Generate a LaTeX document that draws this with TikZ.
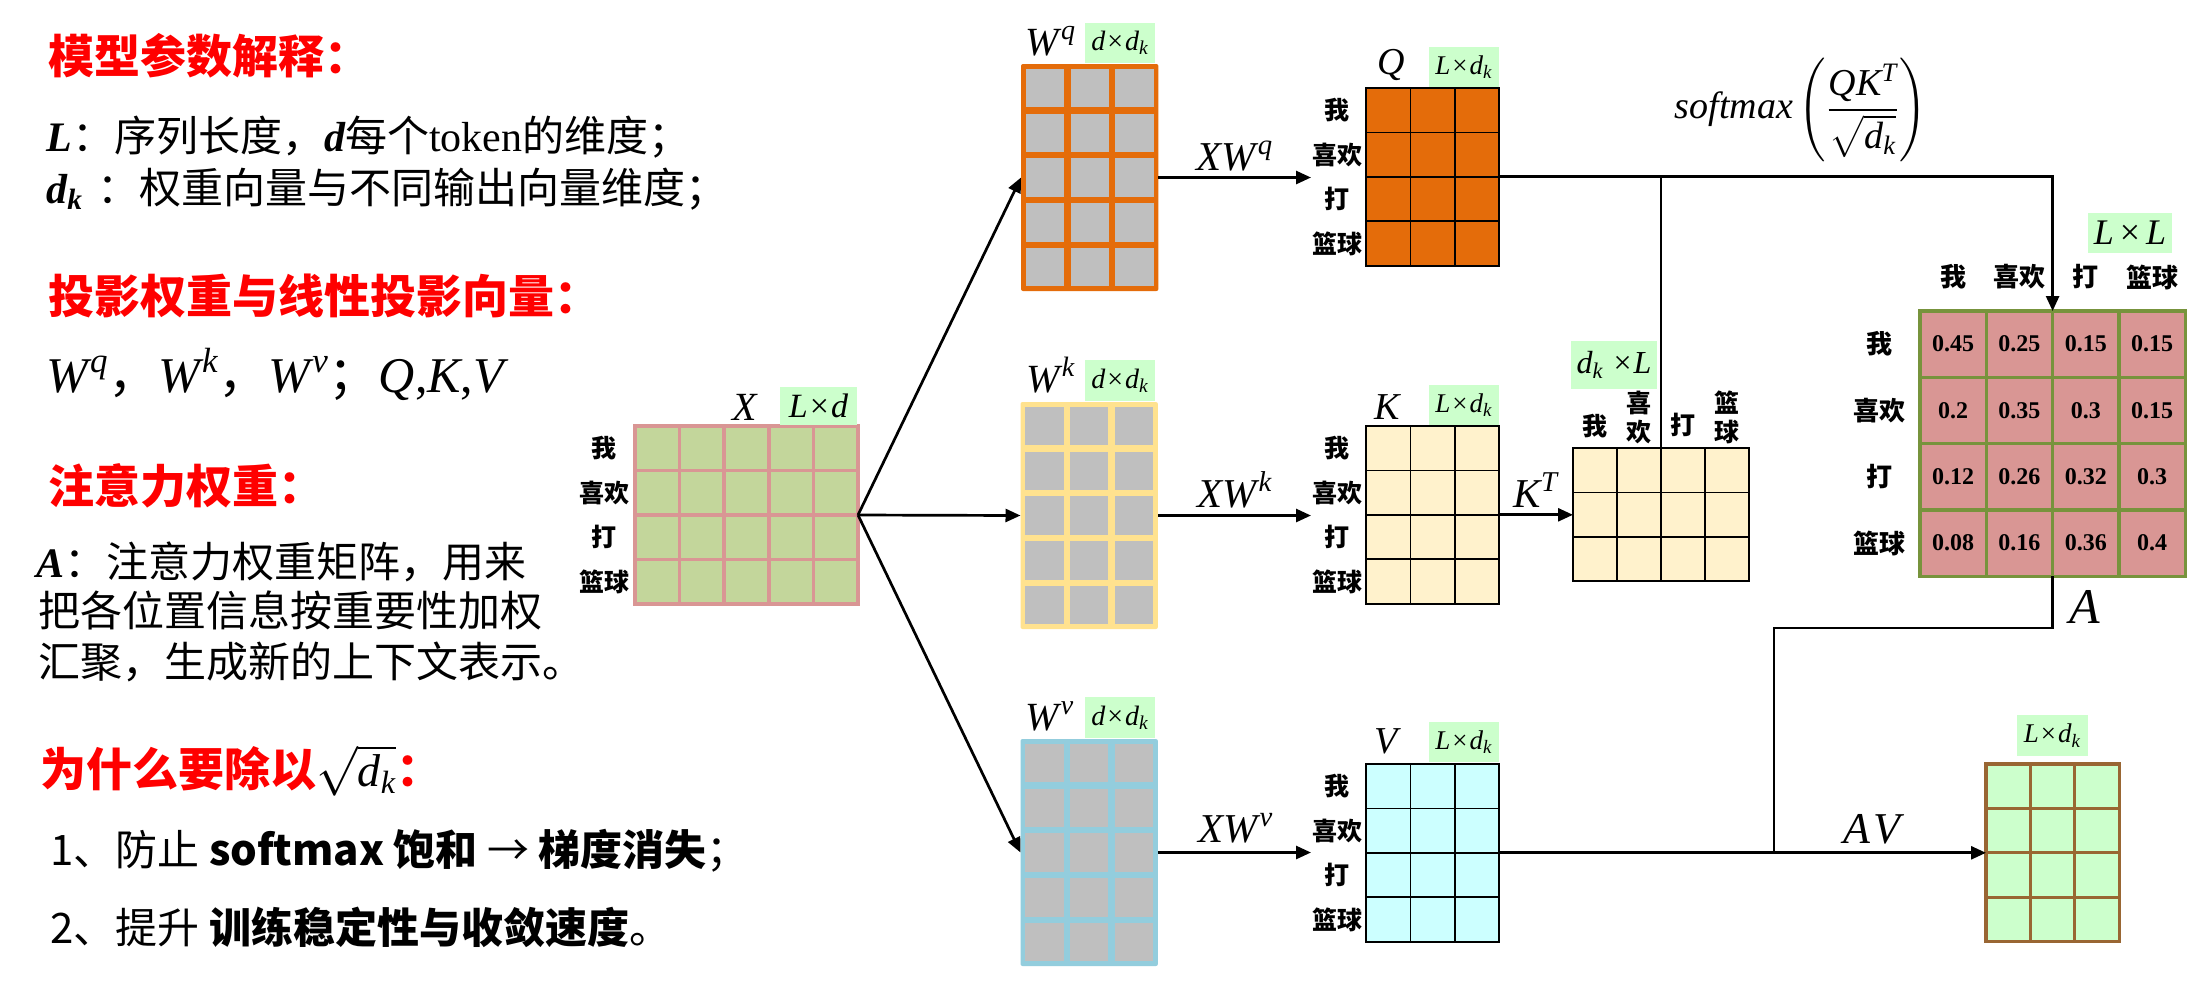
\documentclass[tikz,border=0pt]{standalone}
\usepackage{amsmath}
\usepackage{fontspec}
\setmainfont{Liberation Serif}
\newfontfamily\cjk{Noto Sans CJK SC}
\newfontfamily\tms{Liberation Serif}
\usetikzlibrary{arrows.meta,calc}
\definecolor{red0}{HTML}{FF0000}
\definecolor{dimg}{HTML}{CCFFCC}
\definecolor{xfill}{HTML}{C3D69B}
\definecolor{xline}{HTML}{D99694}
\definecolor{wq}{HTML}{E46C0A}
\definecolor{wk}{HTML}{FFE28F}
\definecolor{wv}{HTML}{93CDDD}
\definecolor{cellg}{HTML}{BFBFBF}
\definecolor{kf}{HTML}{FFF2CC}
\definecolor{vf}{HTML}{CCFFFF}
\definecolor{af}{HTML}{D99694}
\definecolor{al}{HTML}{77933C}
\definecolor{of}{HTML}{CCFFCC}
\definecolor{ol}{HTML}{996633}
\newcommand\tv[1]{\text{\tms\mdseries\itshape #1}}
\newcommand\bi[1]{{\tms\bfseries\itshape #1}}
\newcommand\I[1]{{\tms\mdseries\itshape #1}}
\newcommand\tX{{\tms\mdseries\kern1pt×\kern1pt}}
\newcommand\sk{\textsubscript{\I{k}}}
\tikzset{
  box/.style 2 args={minimum width={(#1)*0.5pt}, minimum height={(#2)*0.5pt}, inner sep=0pt, outer sep=0pt},
  head/.style={anchor=base west, inner sep=0pt, text=red0, font=\cjk\bfseries\fontsize{23pt}{27pt}\selectfont},
  body/.style={anchor=base west, inner sep=0pt, font=\cjk\fontsize{21pt}{25pt}\selectfont},
  lab/.style={inner sep=0pt, font=\cjk\bfseries\fontsize{12.5pt}{14.5pt}\selectfont},
  alab/.style={inner sep=0pt, font=\cjk\bfseries\fontsize{13pt}{15pt}\selectfont},
  num/.style={inner sep=0pt, font=\tms\bfseries\fontsize{12pt}{14pt}\selectfont},
  mlab/.style={anchor=base, inner sep=0pt, font=\fontsize{20pt}{24pt}\selectfont},
  qlab/.style={anchor=base, inner sep=0pt, font=\fontsize{19pt}{22pt}\selectfont},
  dimbox/.style 2 args={box={#1}{#2}, fill=dimg},
  conn/.style={line width=1.35pt, black},
  arr/.style={conn, -{Triangle[length=7.5pt,width=6.5pt]}},
}
% name, x0, y0, cols, rows, cw, ch, fill, line style
\newcommand\mgrid[9]{%
  \node[box={#4*#6}{#5*#7}, anchor=north west, fill=#8] (#1) at (#2,#3) {};
  \pgfmathtruncatemacro\mgc{#4-1}%
  \pgfmathtruncatemacro\mgr{#5-1}%
  \foreach \ii in {1,...,\mgc}{\draw[#9] ({#2+\ii*#6},#3) -- ({#2+\ii*#6},{#3+#5*#7});}
  \foreach \jj in {1,...,\mgr}{\draw[#9] (#2,{#3+\jj*#7}) -- ({#2+#4*#6},{#3+\jj*#7});}
  \draw[#9] (#2,#3) rectangle ({#2+#4*#6},{#3+#5*#7});
}
% name, x0, y0, colour
\newcommand\wmat[4]{%
  \node[box={137.4}{227}, anchor=north west, fill=#4, rounded corners=1pt] (#1) at ({#2-1.5},{#3-1.5}) {};
  \foreach \ii in {0,1,2}{\foreach \jj in {0,...,4}{%
    \fill[cellg] ({#2+\ii*44.8+3.2},{#3+\jj*44.8+3.2}) rectangle ++(38.4,38.4);}}
}
% prefix, x, y0, ch
\newcommand\rowlabs[4]{%
  \node[lab] (#1r1) at (#2,{#3+0.5*#4}) {我};
  \node[lab] (#1r2) at (#2,{#3+1.5*#4}) {喜欢};
  \node[lab] (#1r3) at (#2,{#3+2.5*#4}) {打};
  \node[lab] (#1r4) at (#2,{#3+3.5*#4}) {篮球};
}
\begin{document}
\begin{tikzpicture}[x=0.5pt,y=-0.5pt]
\useasboundingbox (0,0) rectangle (2196,982);
\fill[white] (0,0) rectangle (2196,982);

% ---------------- left text ----------------
\node[head] (h1) at (48,73) {模型参数解释：};
\node[body] (b1) at (46,151) {\bi{L}：序列长度，\bi{d}每个{\tms token}的维度；};
\node[body] (b2) at (46,203) {\bi{d}\textsubscript{\bi{k}}\hspace{7pt}：权重向量与不同输出向量维度；};
\node[head] (h2) at (48,313) {投影权重与线性投影向量：};
\node[anchor=base west, inner sep=0pt, font=\cjk\fontsize{25pt}{29pt}\selectfont] (wl) at (46,392)
  {$\tv{W}^{\kern1pt\tv{q}}$，$\tv{W}^{\kern1pt\tv{k}}$，$\tv{W}^{\kern1pt\tv{v}}$；$\tv{Q}${\tms,}$\tv{K}${\tms,}$\tv{V}$};
\node[head] (h3) at (48,503) {注意力权重：};
\node[body] (a1) at (36,577) {\bi{A}：注意力权重矩阵，用来};
\node[body] (a2) at (38,626) {把各位置信息按重要性加权};
\node[body] (a3) at (38,677) {汇聚，生成新的上下文表示。};
\node[head] (h4) at (40,786) {为什么要除以{\color{black}$\sqrt{\tv{d}_{\tv{k}}}$}：};
\node[body] (i1) at (50,865) {1、防止 {\bfseries softmax 饱和} → {\bfseries 梯度消失}；};
\node[body] (i2) at (50,943) {2、提升 {\bfseries 训练稳定性与收敛速度}。};

% ---------------- X ----------------
\mgrid{X}{635}{426}{5}{4}{44.6}{44.5}{xfill}{draw=xline,line width=1.75pt}
\rowlabs{x}{604}{426}{44.5}
\node[mlab] (lX) at (745,420) {$\tv{X}$};
\node[dimbox={77}{38}, font=\fontsize{17pt}{20pt}\selectfont] (dX) at (818.5,406) {\I{L}\tX\I{d}};

% ---------------- W matrices ----------------
\wmat{Wq}{1022.5}{65.5}{wq}
\wmat{Wk}{1022}{403.5}{wk}
\wmat{Wv}{1022}{740.5}{wv}
\node[mlab] (lWq) at (1051,55) {$\tv{W}^{\kern1pt\tv{q}}$};
\node[mlab] (lWk) at (1051,392) {$\tv{W}^{\kern1pt\tv{k}}$};
\node[mlab] (lWv) at (1050,730) {$\tv{W}^{\kern1pt\tv{v}}$};
\node[dimbox={70}{40}, font=\fontsize{14pt}{17pt}\selectfont] (dWq) at (1120,43) {\I{d}\tX\I{d}\sk};
\node[dimbox={70}{41}, font=\fontsize{14pt}{17pt}\selectfont] (dWk) at (1120,380.5) {\I{d}\tX\I{d}\sk};
\node[dimbox={70}{41}, font=\fontsize{14pt}{17pt}\selectfont] (dWv) at (1120,717.5) {\I{d}\tX\I{d}\sk};

\draw[arr] (X.east) -- (Wq.west);
\draw[arr] (X.east) -- (Wk.west);
\draw[arr] (X.east) -- (Wv.west);

% ---------------- Q K V ----------------
\mgrid{Q}{1366}{88}{3}{4}{44.4}{44.4}{wq}{draw=black,line width=0.9pt}
\mgrid{K}{1366}{426}{3}{4}{44.4}{44.4}{kf}{draw=black,line width=0.9pt}
\mgrid{V}{1366}{764}{3}{4}{44.4}{44.4}{vf}{draw=black,line width=0.9pt}
\rowlabs{q}{1337}{88}{44.4}
\rowlabs{k}{1337}{426}{44.4}
\rowlabs{v}{1337}{764}{44.4}
\node[qlab] (lQ) at (1391,74) {$\tv{Q}$};
\node[qlab] (lK) at (1387,419) {$\tv{K}$};
\node[qlab] (lV) at (1386,753) {$\tv{V}$};
\node[dimbox={70}{40}, font=\fontsize{13.5pt}{16pt}\selectfont] (dQ) at (1464,67) {\I{L}\tX\I{d}\sk};
\node[dimbox={70}{40}, font=\fontsize{13.5pt}{16pt}\selectfont] (dK) at (1464,405) {\I{L}\tX\I{d}\sk};
\node[dimbox={70}{40}, font=\fontsize{13.5pt}{16pt}\selectfont] (dV) at (1464,742) {\I{L}\tX\I{d}\sk};

\coordinate (tipx) at (1311,0);
\draw[arr] (Wq.east) -- (Wq.east -| tipx);
\draw[arr] (Wk.east) -- (Wk.east -| tipx);
\draw[arr] (Wv.east) -- (Wv.east -| tipx);
\node[mlab, font=\fontsize{20.5pt}{24pt}\selectfont] (lxwq) at (1235,170) {$\tv{XW}^{\kern1pt\tv{q}}$};
\node[mlab, font=\fontsize{20.5pt}{24pt}\selectfont] (lxwk) at (1235,507) {$\tv{XW}^{\kern1pt\tv{k}}$};
\node[mlab, font=\fontsize{20.5pt}{24pt}\selectfont] (lxwv) at (1236,842) {$\tv{XW}^{\kern1pt\tv{v}}$};

% ---------------- K^T ----------------
\mgrid{KT}{1573}{448}{4}{3}{44}{44.4}{kf}{draw=black,line width=0.9pt}
\node[dimbox={86}{48}, font=\fontsize{16pt}{19pt}\selectfont] (dKT) at (1614,365) {\I{d}\sk\kern4pt\tX\I{L}};
\node[lab] (kc1) at (1595,426) {我};
\node[lab, align=center] (kc2) at (1639,417) {喜\\欢};
\node[lab] (kc3) at (1683,425) {打};
\node[lab, align=center] (kc4) at (1727,417) {篮\\球};
\draw[arr] (K.east) -- (K.east -| KT.west);
\node[mlab, font=\fontsize{20.5pt}{24pt}\selectfont] (lkt) at (1536,507) {$\tv{K}^{\tv{T}}$};

% ---------------- A ----------------
\mgrid{A}{1920}{311}{4}{4}{66.3}{66.3}{af}{draw=al,line width=1.6pt}
\foreach \vals [count=\r] in {{0.45,0.25,0.15,0.15},{0.2,0.35,0.3,0.15},{0.12,0.26,0.32,0.3},{0.08,0.16,0.36,0.4}}{
  \foreach \v [count=\c] in \vals {
    \node[num] (a\r\c) at ({1920+(\c-0.5)*66.3},{311+(\r-0.5)*66.3}) {\v};
  }
}
\node[alab] (ar1) at (1879,{311+0.5*66.3}) {我};
\node[alab] (ar2) at (1879,{311+1.5*66.3}) {喜欢};
\node[alab] (ar3) at (1879,{311+2.5*66.3}) {打};
\node[alab] (ar4) at (1879,{311+3.5*66.3}) {篮球};
\node[alab] (ac1) at ({1920+0.5*66.3},277) {我};
\node[alab] (ac2) at ({1920+1.5*66.3},277) {喜欢};
\node[alab] (ac3) at ({1920+2.5*66.3},277) {打};
\node[alab] (ac4) at ({1920+3.5*66.3},277) {篮球};
\node[dimbox={84}{40}, font=\fontsize{18pt}{21pt}\selectfont] (dA) at (2130,233) {\I{L}\kern2pt\tX\kern2pt\I{L}};
\node[mlab, font=\fontsize{25pt}{29pt}\selectfont] (lA) at (2085,623) {$\tv{A}$};
\node[inner sep=0pt, font=\fontsize{19pt}{23pt}\selectfont] (sm) at (1801,110)
  {$\tv{softmax}\left(\dfrac{\tv{QK}^{\tv{T}}}{\sqrt{\tv{d}_{\tv{k}}}}\right)$};

\draw[arr] (Q.east) -| (A.north);
\draw[conn] (Q.east -| KT.north) -- (KT.north);

% ---------------- output ----------------
\mgrid{Out}{1986}{764}{3}{4}{44.4}{44.4}{of}{draw=ol,line width=1.6pt}
\node[dimbox={71}{41}, font=\fontsize{13.5pt}{16pt}\selectfont] (dO) at (2052.5,735.5) {\I{L}\tX\I{d}\sk};
\coordinate (ja) at (2052.6,628);
\coordinate (jv) at (1774,0);
\draw[conn] (A.south) -- (ja) -| (jv |- V.east);
\draw[arr] (V.east) -- (V.east -| Out.west);
\node[mlab, font=\fontsize{22pt}{26pt}\selectfont] (lav) at (1872,843) {$\tv{A\kern2pt V}$};
\end{tikzpicture}
\end{document}
